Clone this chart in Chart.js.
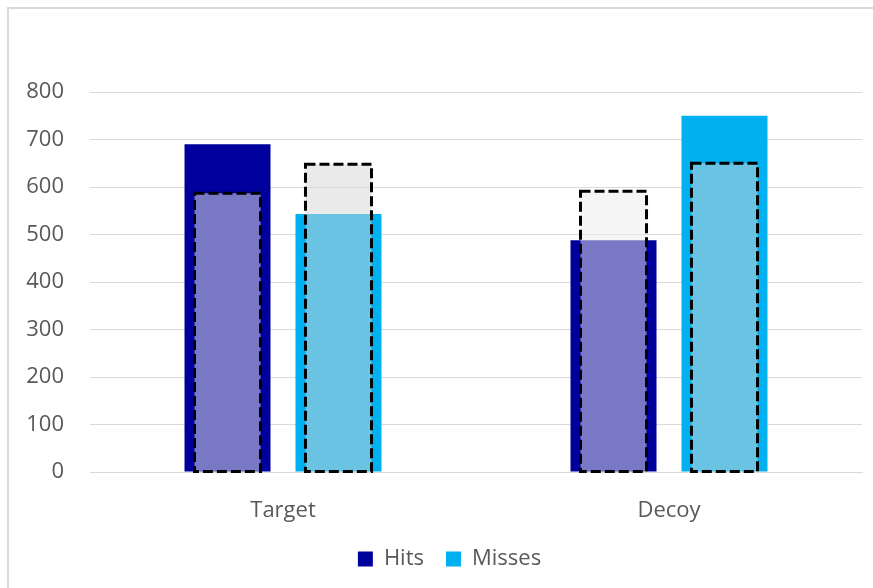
<!DOCTYPE html>
<html lang="en">
<head>
    <meta charset="UTF-8">
    <title>Hits and Misses</title>
    <script src="https://cdn.jsdelivr.net/npm/chart.js"></script>
    <style>
        body {
            margin: 0;
            background: white;
            overflow: hidden;
        }
        #frame {
            position: absolute;
            left: 7px;
            top: 7px;
            width: 1000px;
            height: 700px;
            border: 2px solid #d9d9d9;
        }
        #chartBox {
            position: absolute;
            left: 0;
            top: 0;
            width: 873px;
            height: 588px;
        }
    </style>
</head>
<body>
    <div id="frame"></div>
    <div id="chartBox">
        <canvas id="hitChart"></canvas>
    </div>

    <script>
        const categories = ['Target', 'Decoy'];
        const hits = [690, 488];
        const misses = [543, 750];
        // dashed outline bars sitting over each column
        const hitsRef = [587, 591];
        const missesRef = [648, 650];
        const yTicks = [0, 100, 200, 300, 400, 500, 600, 700, 800];

        const textColor = '#595959';
        const fontFamily = '"Segoe UI", "Open Sans", "Noto Sans", sans-serif';

        // bars don't support borderDash, so outline the reference bars here
        const dashedOutline = {
            id: 'dashedOutline',
            afterDatasetsDraw(chart) {
                const ctx = chart.ctx;
                chart.data.datasets.forEach((ds, i) => {
                    if (!ds.dashed) return;
                    const meta = chart.getDatasetMeta(i);
                    meta.data.forEach(bar => {
                        const p = bar.getProps(['x', 'y', 'base', 'width'], true);
                        ctx.save();
                        ctx.strokeStyle = '#000';
                        ctx.lineWidth = 3;
                        ctx.setLineDash([10, 4]);
                        ctx.strokeRect(p.x - p.width / 2, p.y, p.width, p.base - p.y);
                        ctx.restore();
                    });
                });
            }
        };

        const ctx = document.getElementById('hitChart').getContext('2d');
        new Chart(ctx, {
            type: 'bar',
            data: {
                labels: categories,
                datasets: [
                    {
                        label: 'Hits',
                        data: hits,
                        backgroundColor: '#00009c',
                        stack: 'hits',
                        order: 1,
                        barPercentage: 0.775,
                        categoryPercentage: 0.575
                    },
                    {
                        label: 'Misses',
                        data: misses,
                        backgroundColor: '#00b0f0',
                        stack: 'misses',
                        order: 1,
                        barPercentage: 0.775,
                        categoryPercentage: 0.575
                    },
                    {
                        label: 'Hits ref',
                        data: hitsRef,
                        backgroundColor: 'rgba(235, 235, 235, 0.51)',
                        stack: 'hits',
                        order: 0,
                        dashed: true,
                        barPercentage: 0.595,
                        categoryPercentage: 0.575
                    },
                    {
                        label: 'Misses ref',
                        data: missesRef,
                        backgroundColor: 'rgba(214, 214, 214, 0.5)',
                        stack: 'misses',
                        order: 0,
                        dashed: true,
                        barPercentage: 0.595,
                        categoryPercentage: 0.575
                    }
                ]
            },
            options: {
                responsive: true,
                maintainAspectRatio: false,
                animation: false,
                layout: {
                    padding: { left: 26, right: 0, top: 92, bottom: 8 }
                },
                plugins: {
                    tooltip: { enabled: false },
                    legend: {
                        position: 'bottom',
                        labels: {
                            filter: item => item.text === 'Hits' || item.text === 'Misses',
                            boxWidth: 15,
                            boxHeight: 15,
                            padding: 22,
                            color: textColor,
                            font: { family: fontFamily, size: 22 }
                        }
                    }
                },
                scales: {
                    x: {
                        // stacked on x only: groups each outline with its column, values stay unstacked
                        stacked: true,
                        grid: { display: false, drawTicks: false },
                        border: { display: true, color: '#d9d9d9', width: 1 },
                        ticks: {
                            color: textColor,
                            padding: 26,
                            font: { family: fontFamily, size: 22 }
                        },
                        afterFit: s => { s.height = 54; }
                    },
                    y: {
                        stacked: false,
                        min: 0,
                        max: 800,
                        afterBuildTicks: s => { s.ticks = yTicks.map(v => ({ value: v })); },
                        grid: { color: '#d9d9d9', drawTicks: false },
                        border: { display: false },
                        ticks: {
                            color: textColor,
                            padding: 26,
                            font: { family: fontFamily, size: 22 }
                        },
                        afterFit: s => { s.width = 64; }
                    },
                    // empty strip on the right so the plot stops short of the edge
                    yRight: {
                        axis: 'y',
                        position: 'right',
                        min: 0,
                        max: 800,
                        grid: { display: false },
                        border: { display: false },
                        ticks: { display: false },
                        afterFit: s => { s.width = 11; }
                    }
                }
            },
            plugins: [dashedOutline]
        });
    </script>
</body>
</html>
